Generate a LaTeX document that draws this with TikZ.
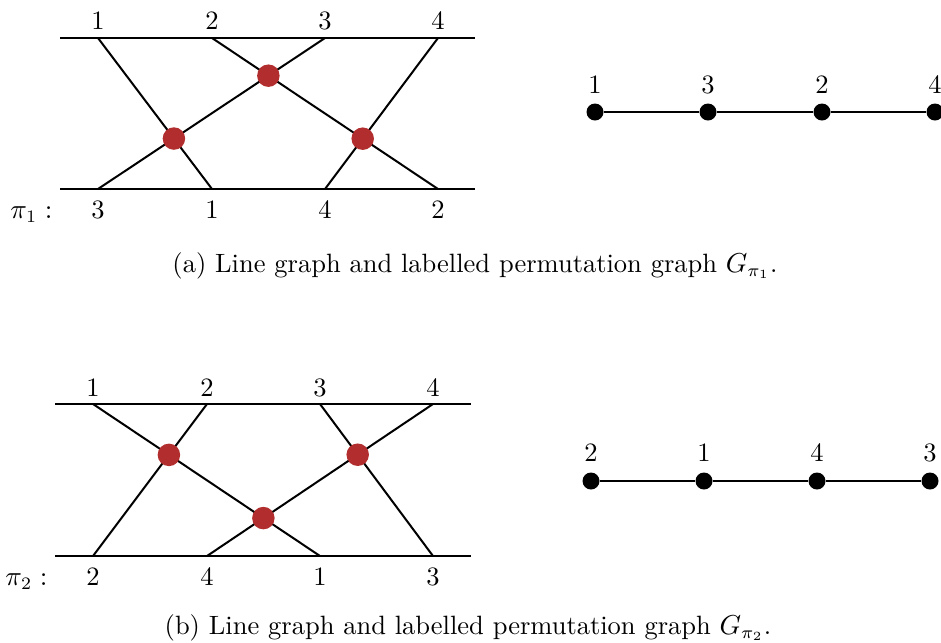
\documentclass[tikz,border=0pt]{standalone}
\usetikzlibrary{calc}
\definecolor{dotred}{RGB}{178,45,45}
\begin{document}
\begin{tikzpicture}[x=0.4pt,y=-0.4pt,
  every node/.style={font=\fontsize{10.6}{12.7}\selectfont},
  wire/.style={line width=0.8pt},
  cross/.style={circle,fill=dotred,inner sep=0pt,minimum size=9pt},
  vert/.style={circle,fill=black,inner sep=0pt,minimum size=6.8pt},
  lab/.style={inner sep=0pt,anchor=base},
  permlab/.style={inner sep=0pt,anchor=base east},
  captext/.style={inner sep=0pt,anchor=base}]
\useasboundingbox (0,0) rectangle (941,642);
\clip (0,0) rectangle (941,642);

% ---------- (a) ----------
\coordinate (aTL) at (60,38);  \coordinate (aTR) at (475,38);
\coordinate (aBL) at (60,189); \coordinate (aBR) at (475,189);
\draw[wire] (aTL) -- (aTR);
\draw[wire] (aBL) -- (aBR);
\coordinate (at1) at (98,38);  \coordinate (at2) at (212,38);
\coordinate (at3) at (325,38); \coordinate (at4) at (438,38);
\coordinate (ab3) at (98,189); \coordinate (ab1) at (212,189);
\coordinate (ab4) at (325,189);\coordinate (ab2) at (438,189);
\draw[wire] (at1) -- (ab1);
\draw[wire] (at2) -- (ab2);
\draw[wire] (at3) -- (ab3);
\draw[wire] (at4) -- (ab4);
\node[cross] (ax13) at (intersection of at1--ab1 and at3--ab3) {};
\node[cross] (ax23) at (intersection of at2--ab2 and at3--ab3) {};
\node[cross] (ax24) at (intersection of at2--ab2 and at4--ab4) {};
\node[lab] (alt1) at (98,29) {1};
\node[lab] (alt2) at (212,29) {2};
\node[lab] (alt3) at (325,29) {3};
\node[lab] (alt4) at (438,29) {4};
\node[lab] (alb3) at (98,218) {3};
\node[lab] (alb1) at (212,218) {1};
\node[lab] (alb4) at (325,218) {4};
\node[lab] (alb2) at (438,218) {2};
\node[permlab] (api) at (53,218) {$\pi_1:$};

\node[vert] (ag1) at (595,112) {};
\node[vert] (ag3) at (708,112) {};
\node[vert] (ag2) at (822,112) {};
\node[vert] (ag4) at (935,112) {};
\draw[wire] (ag1) -- (ag3) -- (ag2) -- (ag4);
\node[lab] (agl1) at (595,93) {1};
\node[lab] (agl3) at (708,93) {3};
\node[lab] (agl2) at (822,93) {2};
\node[lab] (agl4) at (935,93) {4};

\node[captext] (acap) at (475,272) {(a) Line graph and labelled permutation graph $G_{\pi_1}$.};

% ---------- (b) ----------
\coordinate (bTL) at (55,404);  \coordinate (bTR) at (471,404);
\coordinate (bBL) at (55,556);  \coordinate (bBR) at (471,556);
\draw[wire] (bTL) -- (bTR);
\draw[wire] (bBL) -- (bBR);
\coordinate (bt1) at (93,404);  \coordinate (bt2) at (207,404);
\coordinate (bt3) at (320,404); \coordinate (bt4) at (433,404);
\coordinate (bb2) at (93,556);  \coordinate (bb4) at (207,556);
\coordinate (bb1) at (320,556); \coordinate (bb3) at (433,556);
\draw[wire] (bt1) -- (bb1);
\draw[wire] (bt2) -- (bb2);
\draw[wire] (bt3) -- (bb3);
\draw[wire] (bt4) -- (bb4);
\node[cross] (bx12) at (intersection of bt1--bb1 and bt2--bb2) {};
\node[cross] (bx14) at (intersection of bt1--bb1 and bt4--bb4) {};
\node[cross] (bx34) at (intersection of bt3--bb3 and bt4--bb4) {};
\node[lab] (blt1) at (93,396) {1};
\node[lab] (blt2) at (207,396) {2};
\node[lab] (blt3) at (320,396) {3};
\node[lab] (blt4) at (433,396) {4};
\node[lab] (blb2) at (93,585) {2};
\node[lab] (blb4) at (207,585) {4};
\node[lab] (blb1) at (320,585) {1};
\node[lab] (blb3) at (433,585) {3};
\node[permlab] (bpi) at (48,585) {$\pi_2:$};

\node[vert] (bg2) at (591,481) {};
\node[vert] (bg1) at (704,481) {};
\node[vert] (bg4) at (817,481) {};
\node[vert] (bg3) at (930,481) {};
\draw[wire] (bg2) -- (bg1) -- (bg4) -- (bg3);
\node[lab] (bgl2) at (591,461) {2};
\node[lab] (bgl1) at (704,461) {1};
\node[lab] (bgl4) at (817,461) {4};
\node[lab] (bgl3) at (930,461) {3};

\node[captext] (bcap) at (468,634) {(b) Line graph and labelled permutation graph $G_{\pi_2}$.};
\end{tikzpicture}
\end{document}
